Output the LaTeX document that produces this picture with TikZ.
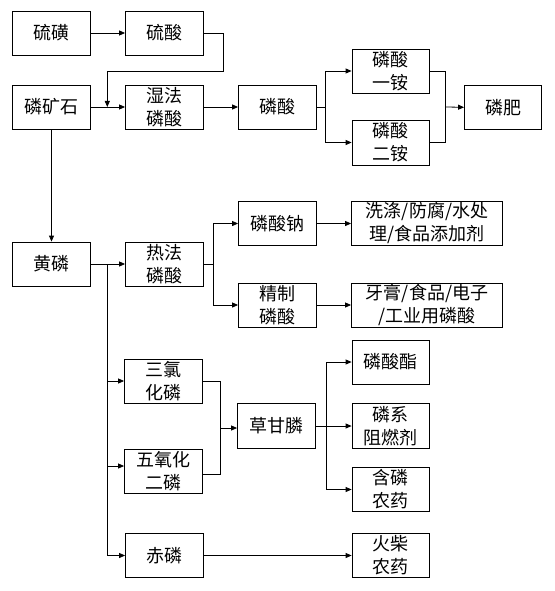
\documentclass[tikz,border=0pt]{standalone}
\usepackage{fontspec}
\setmainfont{Noto Sans CJK SC}
\usetikzlibrary{arrows.meta}
\begin{document}
\begin{tikzpicture}[x=1pt,y=-1pt,
  box/.style={draw,line width=0.8pt,minimum width=78pt,minimum height=44pt,inner sep=0pt,align=center,
    font=\fontsize{18}{23}\selectfont},
  wide/.style={box,minimum width=151pt},
  ln/.style={line width=0.8pt},
  ar/.style={ln,-{Triangle[length=6pt,width=5pt]}}]
\useasboundingbox (0,0) rectangle (554,591);
\node[box] (liuhuang) at (51.5,33) {硫磺};
\node[box] (liusuan) at (164.5,33) {硫酸};
\node[box] (kuang) at (51.5,107) {磷矿石};
\node[box] (shifa) at (164.5,107) {湿法\\磷酸};
\node[box] (linsuan) at (277.5,107) {磷酸};
\node[box,minimum width=77pt] (yian) at (390.5,71) {磷酸\\一铵};
\node[box,minimum width=77pt,minimum height=45pt] (eran) at (390.5,142.5) {磷酸\\二铵};
\node[box,minimum width=77pt] (feiliao) at (503,107.3) {磷肥};
\node[box] (huanglin) at (51.5,264) {黄磷};
\node[box] (refa) at (164.5,264) {热法\\磷酸};
\node[box] (nasuan) at (277.5,223.5) {磷酸钠};
\node[box] (jingzhi) at (277.5,305) {精制\\磷酸};
\node[wide] (xidi) at (427,223.5) {洗涤/防腐/水处\\理/食品添加剂};
\node[wide] (yagao) at (427,305) {牙膏/食品/电子\\/工业用磷酸};
\node[box] (sanlv) at (163.5,381) {三氯\\化磷};
\node[box] (wuyang) at (163.5,471) {五氧化\\二磷};
\node[box] (chilin) at (164.5,555.5) {赤磷};
\node[box,minimum height=45pt] (caogan) at (276.5,426) {草甘膦};
\node[box,minimum width=77pt] (zhi) at (390.5,362) {磷酸酯};
\node[box,minimum width=77pt,minimum height=45pt] (zuran) at (390.5,426) {磷系\\阻燃剂};
\node[box,minimum width=77pt] (nongyao) at (390.5,489.5) {含磷\\农药};
\node[box,minimum width=77pt] (huochai) at (390.5,555.5) {火柴\\农药};
\coordinate (j1) at (107.3,107);
\coordinate (s1) at (325.7,107);
\coordinate (m1) at (445.7,107);
\coordinate (b1) at (107.3,264);
\coordinate (s2) at (213.3,264);
\coordinate (m2) at (220.7,428);
\coordinate (s3) at (326,426);
% top
\draw[ar] (liuhuang) -- (liusuan);
\draw[ar] (liusuan.east) -- (223,33) -- (223,71) -- (107.3,71) -- (j1);
\draw[ar] (kuang) -- (shifa);
\draw[ar] (shifa) -- (linsuan);
\draw[ln] (linsuan.east) -- (s1);
\draw[ar] (s1) |- (yian.west);
\draw[ar] (s1) |- (eran.west);
\draw[ln] (yian.east) -| (m1);
\draw[ln] (eran.east) -| (m1);
\draw[ar] (m1) -- (feiliao.west);
\draw[ar] (kuang) -- (huanglin);
% middle
\draw[ar] (huanglin) -- (refa);
\draw[ln] (refa.east) -- (s2);
\draw[ar] (s2) |- (nasuan.west);
\draw[ar] (s2) |- (jingzhi.west);
\draw[ar] (nasuan) -- (xidi);
\draw[ar] (jingzhi) -- (yagao);
% lower
\draw[ln] (b1) -- (107.3,555.5);
\draw[ar] (107.3,381) -- (sanlv.west);
\draw[ar] (107.3,466) -- (wuyang.west|-0,466);
\draw[ar] (107.3,555.5) -- (chilin.west);
\draw[ar] (chilin) -- (huochai);
\draw[ln] (sanlv.east) -| (m2);
\draw[ln] (wuyang.east|-0,474) -| (m2);
\draw[ar] (m2) -- (caogan.west|-m2);
\draw[ln] (caogan.east) -- (s3);
\draw[ar] (s3) |- (zhi.west);
\draw[ar] (s3) |- (zuran.west);
\draw[ar] (s3) |- (nongyao.west);
\end{tikzpicture}
\end{document}
